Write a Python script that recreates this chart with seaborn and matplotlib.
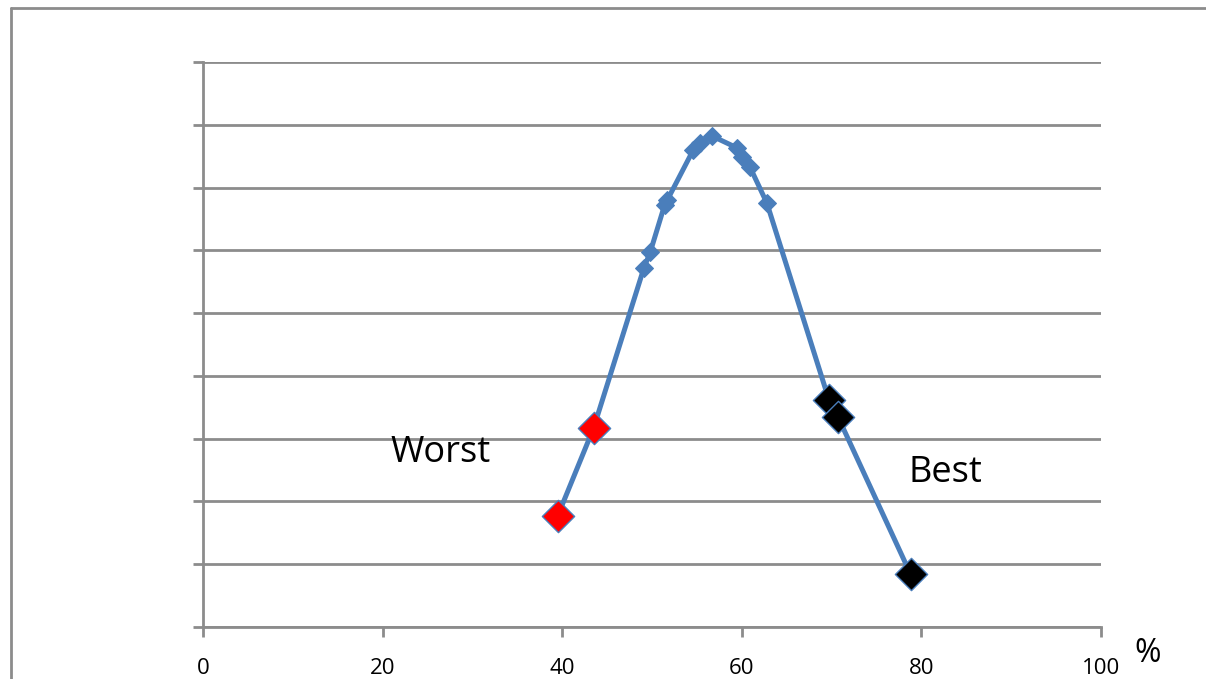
import matplotlib.pyplot as plt
import seaborn as sns
import pandas as pd
from matplotlib.lines import Line2D

sns.set_style("white")
plt.rcParams['font.family'] = ['Open Sans', 'DejaVu Sans']

# points along the curve (x in %, y in grid units)
x_all = [39.5, 43.5, 49.1, 49.8, 51.4, 51.7, 54.6, 55.3, 56.7,
         59.5, 60.0, 60.9, 62.8, 69.7, 70.7, 78.8]
y_all = [1.77, 3.17, 5.72, 5.97, 6.72, 6.80, 7.60, 7.71, 7.82,
         7.63, 7.49, 7.33, 6.75, 3.62, 3.35, 0.84]

worst_x = [39.5, 43.5]
worst_y = [1.77, 3.17]
best_x = [69.7, 70.7, 78.8]
best_y = [3.62, 3.35, 0.84]

x_ticks = [0, 20, 40, 60, 80, 100]

df = pd.DataFrame({"x": x_all, "y": y_all})
blue = "#4A7EBB"
grid_col = "#8C8C8C"

fig = plt.figure(figsize=(12.06, 6.79), dpi=100)
ax = fig.add_axes([203 / 1206, 52 / 679, 898 / 1206, 565 / 679])

sns.lineplot(data=df, x="x", y="y", color=blue, linewidth=3.6,
             marker="D", markersize=9, markeredgecolor=blue,
             sort=False, ax=ax, zorder=3)
sns.scatterplot(x=worst_x, y=worst_y, marker="D", s=270, color="#FF0000",
                edgecolor=blue, linewidth=1, ax=ax, zorder=4)
sns.scatterplot(x=best_x, y=best_y, marker="D", s=270, color="black",
                edgecolor=blue, linewidth=1, ax=ax, zorder=4)

ax.set_xlim(0, 100)
ax.set_ylim(0, 9)
ax.set_xticks(x_ticks)
ax.set_yticks(range(10))
ax.set_yticklabels([])
ax.set_xlabel("")
ax.set_ylabel("")
ax.yaxis.grid(True, color=grid_col, linewidth=2)
ax.xaxis.grid(False)
for side in ["top", "right"]:
    ax.spines[side].set_visible(False)
for side in ["left", "bottom"]:
    ax.spines[side].set_color(grid_col)
    ax.spines[side].set_linewidth(2)
ax.tick_params(axis="both", length=7, width=2, color=grid_col,
               direction="out", labelsize=16, labelcolor="black", pad=15)
ax.tick_params(axis="y", left=True)
ax.tick_params(axis="x", bottom=True)

ax.text(20.9, 2.77, "Worst", fontsize=26, color="black", ha="left", va="center")
ax.text(78.6, 2.45, "Best", fontsize=26, color="black", ha="left", va="center")
fig.text(1148 / 1206, 1 - 654 / 679, "%", fontsize=23, color="black",
         ha="center", va="center")

# outer frame of the original picture
fig.add_artist(Line2D([11 / 1206, 11 / 1206], [0, 1 - 8 / 679],
                      transform=fig.transFigure, color=grid_col, linewidth=2))
fig.add_artist(Line2D([11 / 1206, 1], [1 - 8 / 679, 1 - 8 / 679],
                      transform=fig.transFigure, color=grid_col, linewidth=2))

fig.savefig("out.png", dpi=100)
